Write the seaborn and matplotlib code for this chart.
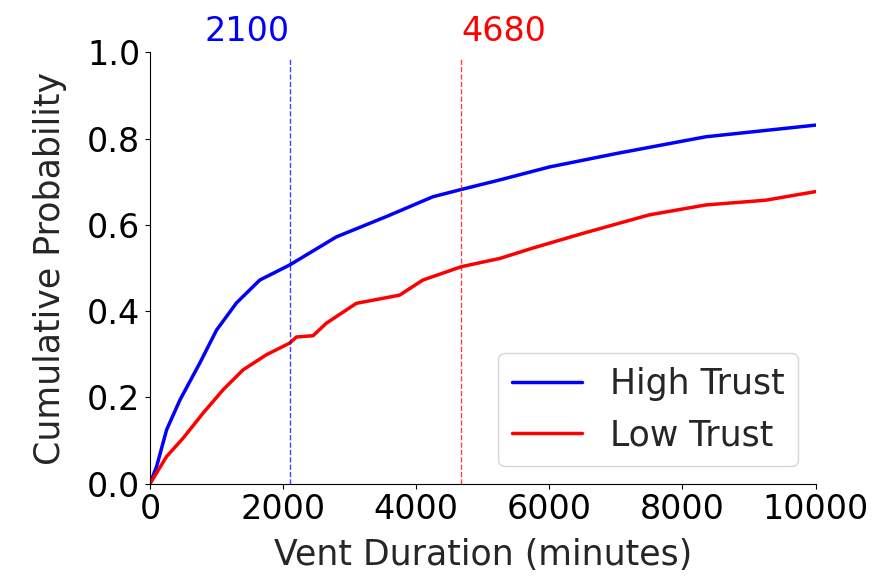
import matplotlib
matplotlib.use('Agg')
import matplotlib.pyplot as plt
import seaborn as sns
import pandas as pd

# pontos (minutos, probabilidade acumulada)
high_x = [0, 100, 250, 450, 750, 1000, 1300, 1650, 2100, 2800, 3550, 4250, 4680, 5255, 6000, 7000, 8350, 10000]
high_y = [0.0, 0.04, 0.125, 0.194, 0.28, 0.356, 0.419, 0.472, 0.507, 0.572, 0.619, 0.665, 0.682, 0.704, 0.734, 0.765, 0.804, 0.831]

low_x = [0, 250, 500, 800, 1100, 1400, 1750, 2100, 2200, 2450, 2650, 3100, 3750, 4100, 4680, 5255, 5750, 6500, 7500, 8350, 9250, 10000]
low_y = [0.0, 0.063, 0.106, 0.164, 0.218, 0.264, 0.299, 0.326, 0.340, 0.343, 0.372, 0.418, 0.437, 0.472, 0.503, 0.522, 0.546, 0.580, 0.623, 0.646, 0.657, 0.677]

grupos = ['High Trust', 'Low Trust']
medianas = [2100, 4680]
cores = ['blue', 'red']

df = pd.concat([
    pd.DataFrame({'x': high_x, 'y': high_y, 'grupo': grupos[0]}),
    pd.DataFrame({'x': low_x, 'y': low_y, 'grupo': grupos[1]}),
])

sns.set_style('ticks')
plt.rcParams['font.family'] = ['DejaVu Sans']

fig = plt.figure(figsize=(8.77, 5.8), dpi=100)
ax = fig.add_axes([0.171, 0.166, 0.759, 0.744])

sns.lineplot(data=df, x='x', y='y', hue='grupo', palette=cores, linewidth=2.5, ax=ax)

# linhas das medianas
for m, c, ha in zip(medianas, cores, ['right', 'left']):
    ax.vlines(m, 0, 0.99, colors=c, linestyles='--', linewidth=1, alpha=0.75)
    ax.text(m, 1.01, str(m), color=c, fontsize=24, ha=ha, va='bottom')

ax.set_xlim(0, 10000)
ax.set_ylim(0, 1.0)
ax.set_xticks([0, 2000, 4000, 6000, 8000, 10000])
ax.set_yticks([0, 0.2, 0.4, 0.6, 0.8, 1.0])
ax.tick_params(labelsize=24, colors='black')
ax.set_xlabel('Vent Duration (minutes)', fontsize=25, labelpad=8)
ax.set_ylabel('Cumulative Probability', fontsize=25, labelpad=14)
for s in ['left', 'bottom']:
    ax.spines[s].set_color('black')
sns.despine(ax=ax)
ax.legend(loc='lower right', fontsize=25, title=None)

fig.savefig('out.png', dpi=100)
